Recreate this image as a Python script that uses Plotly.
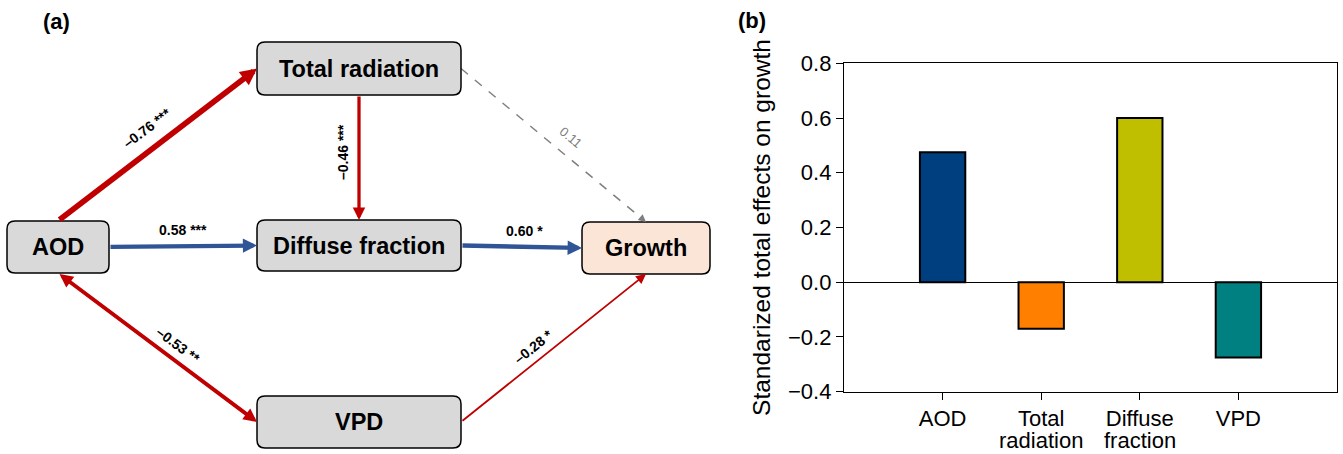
import math
import plotly.graph_objects as go

# ---------------- data ----------------
nodes = ["AOD", "Total radiation", "Diffuse fraction", "Growth", "VPD"]

path_from = ["AOD", "Total radiation", "AOD", "Diffuse fraction", "Total radiation", "AOD", "VPD"]
path_to = ["Total radiation", "Diffuse fraction", "Diffuse fraction", "Growth", "Growth", "VPD", "Growth"]
path_coef = [-0.76, -0.46, 0.58, 0.60, 0.11, -0.53, -0.28]
path_sig = ["***", "***", "***", "*", "", "**", "*"]
path_two_way = [False, False, False, False, False, True, False]

effect_vars = ["AOD", "Total radiation", "Diffuse fraction", "VPD"]
effect_vals = [0.475, -0.17, 0.60, -0.275]
effect_colors = ["#003F7F", "#FF8000", "#BFBF00", "#008080"]
y_ticks = [-0.4, -0.2, 0.0, 0.2, 0.4, 0.6, 0.8]

# ---------------- layout of the path diagram (pixel space) ----------------
W, H = 1343, 454
FONT = "Liberation Sans, Arial, sans-serif"

node_box = {  # cx, cy, w, h
    "AOD": (58, 247, 102, 52),
    "Total radiation": (359, 68.5, 204, 53),
    "Diffuse fraction": (359, 245.5, 204, 51),
    "Growth": (646, 248, 128, 52),
    "VPD": (359, 422, 204, 52),
}
node_fill = {"Growth": "#FBE5D6"}
edge_anchor = [("top", "left"), ("bottom", "top"), ("right", "left"), ("right", "left"),
               ("right", "top"), ("bottom", "left"), ("right", "bottom")]
label_pos = [(147, 128, -37), (343, 152, -90), (183, 230, 0), (524, 231, 0),
             (571, 137, 40), (178, 345, 37), (533, 347, -39)]


def anchor(name, side):
    cx, cy, w, h = node_box[name]
    return {"top": (cx, cy - h / 2), "bottom": (cx, cy + h / 2),
            "left": (cx - w / 2, cy), "right": (cx + w / 2, cy)}[side]


def rounded(cx, cy, w, h, r=8):
    x0, x1, y0, y1 = cx - w / 2, cx + w / 2, cy - h / 2, cy + h / 2
    return (f"M{x0+r},{y0} L{x1-r},{y0} Q{x1},{y0} {x1},{y0+r} L{x1},{y1-r} "
            f"Q{x1},{y1} {x1-r},{y1} L{x0+r},{y1} Q{x0},{y1} {x0},{y1-r} "
            f"L{x0},{y0+r} Q{x0},{y0} {x0+r},{y0} Z")


fig = go.Figure()

shapes = []
annotations = []

# edges
for i in range(len(path_coef)):
    c = path_coef[i]
    sig = path_sig[i] != ""
    x0, y0 = anchor(path_from[i], edge_anchor[i][0])
    x1, y1 = anchor(path_to[i], edge_anchor[i][1])
    if sig:
        color = "#C00000" if c < 0 else "#2F5597"
        width = 8 * abs(c) - 0.4
    else:
        color = "#7F7F7F"
        width = 1.5
    head = 6 + 14 * abs(c)
    asize = head / (5 * width)
    if sig:
        ann = dict(x=x1, y=y1, ax=x0, ay=y0, xref="x", yref="y", axref="x", ayref="y",
                   text="", showarrow=True, arrowhead=2, arrowsize=asize,
                   arrowwidth=width, arrowcolor=color, standoff=0, startstandoff=0)
        if path_two_way[i]:
            ann.update(arrowside="end+start", startarrowhead=2, startarrowsize=asize)
        annotations.append(ann)
    else:
        L = math.hypot(x1 - x0, y1 - y0)
        ux, uy = (x1 - x0) / L, (y1 - y0) / L
        shapes.append(dict(type="line", xref="x", yref="y", x0=x0, y0=y0,
                           x1=x1 - ux * head * 0.8, y1=y1 - uy * head * 0.8,
                           line=dict(color=color, width=width, dash="dash")))
        annotations.append(dict(x=x1, y=y1, ax=x1 - ux * head, ay=y1 - uy * head,
                                xref="x", yref="y", axref="x", ayref="y", text="",
                                showarrow=True, arrowhead=2, arrowsize=asize,
                                arrowwidth=width, arrowcolor=color, standoff=0))
    lx, ly, ang = label_pos[i]
    num = f"{c:.2f}".replace("-", "\u2013")
    txt = f"{num} {path_sig[i]}".strip()
    annotations.append(dict(x=lx, y=ly, xref="x", yref="y", text=txt,
                            showarrow=False, textangle=ang,
                            font=dict(family=FONT, size=14 if sig else 13,
                                      color="#000000" if sig else "#7F7F7F",
                                      weight="bold" if sig else "normal")))

# node boxes
for n in nodes:
    cx, cy, w, h = node_box[n]
    shapes.append(dict(type="path", xref="x", yref="y", path=rounded(cx, cy, w, h),
                       fillcolor=node_fill.get(n, "#D9D9D9"),
                       line=dict(color="#000000", width=1.5), layer="above"))
    annotations.append(dict(x=cx, y=cy, xref="x", yref="y", text=f"<b>{n}</b>",
                            showarrow=False, font=dict(family=FONT, size=23.5, color="#000000")))

# panel labels
annotations.append(dict(x=56, y=21, xref="x", yref="y", text="<b>(a)</b>", showarrow=False,
                        xanchor="center", yanchor="middle",
                        font=dict(family=FONT, size=22, color="#000000")))
annotations.append(dict(x=752 / W, y=1 - 20 / H, xref="paper", yref="paper", text="<b>(b)</b>",
                        showarrow=False, xanchor="center", yanchor="middle",
                        font=dict(family=FONT, size=22, color="#000000")))

# bar chart
cat_x = list(range(len(effect_vars)))
first_line = [v.split(" ", 1)[0] for v in effect_vars]
second_line = [v.split(" ", 1)[1] if " " in v else "" for v in effect_vars]

fig.add_trace(go.Bar(x=cat_x, y=effect_vals,
                     marker=dict(color=effect_colors, line=dict(color="#000000", width=2)),
                     width=0.46, xaxis="x2", yaxis="y2", showlegend=False,
                     hovertemplate="%{y}<extra></extra>"))

for xi, t in zip(cat_x, second_line):
    if t:
        annotations.append(dict(x=xi, y=1 - 440 / H, xref="x2", yref="paper", text=t,
                                showarrow=False, xanchor="center", yanchor="middle",
                                font=dict(family=FONT, size=22, color="#000000")))

BOX_L, BOX_R, BOX_T, BOX_B = 844, 1337, 63.3, 391.7

fig.update_layout(
    width=W, height=H,
    margin=dict(l=0, r=0, t=0, b=0, pad=0),
    paper_bgcolor="white", plot_bgcolor="white",
    font=dict(family=FONT, color="#000000"),
    xaxis=dict(domain=[0, 720 / W], range=[0, 720], visible=False, fixedrange=True),
    yaxis=dict(domain=[0, 1], range=[H, 0], visible=False, fixedrange=True),
    xaxis2=dict(domain=[BOX_L / W, BOX_R / W], range=[-1, 4], anchor="y2",
                tickmode="array", tickvals=cat_x, ticktext=first_line,
                ticks="outside", ticklen=7, tickwidth=1.3, tickcolor="#000000",
                showline=True, linecolor="#000000", linewidth=1.3, mirror=True,
                showgrid=False, zeroline=False, tickfont=dict(size=22), automargin=False),
    yaxis2=dict(domain=[(H - BOX_B) / H, (H - BOX_T) / H], range=[-0.4, 0.8], anchor="x2",
                tickmode="array", tickvals=y_ticks, tickformat=".1f",
                ticks="outside", ticklen=7, tickwidth=1.3, tickcolor="#000000",
                showline=True, linecolor="#000000", linewidth=1.3, mirror=True,
                showgrid=False, zeroline=True, zerolinecolor="#000000", zerolinewidth=1.3,
                tickfont=dict(size=22), automargin=False,
                title=dict(text="Standarized total effects on growth", font=dict(size=24.5),
                           standoff=10)),
    shapes=shapes,
    annotations=annotations,
)

fig.write_html("out.html", config={"displayModeBar": False},
               post_script="document.body.style.margin='0px';")
